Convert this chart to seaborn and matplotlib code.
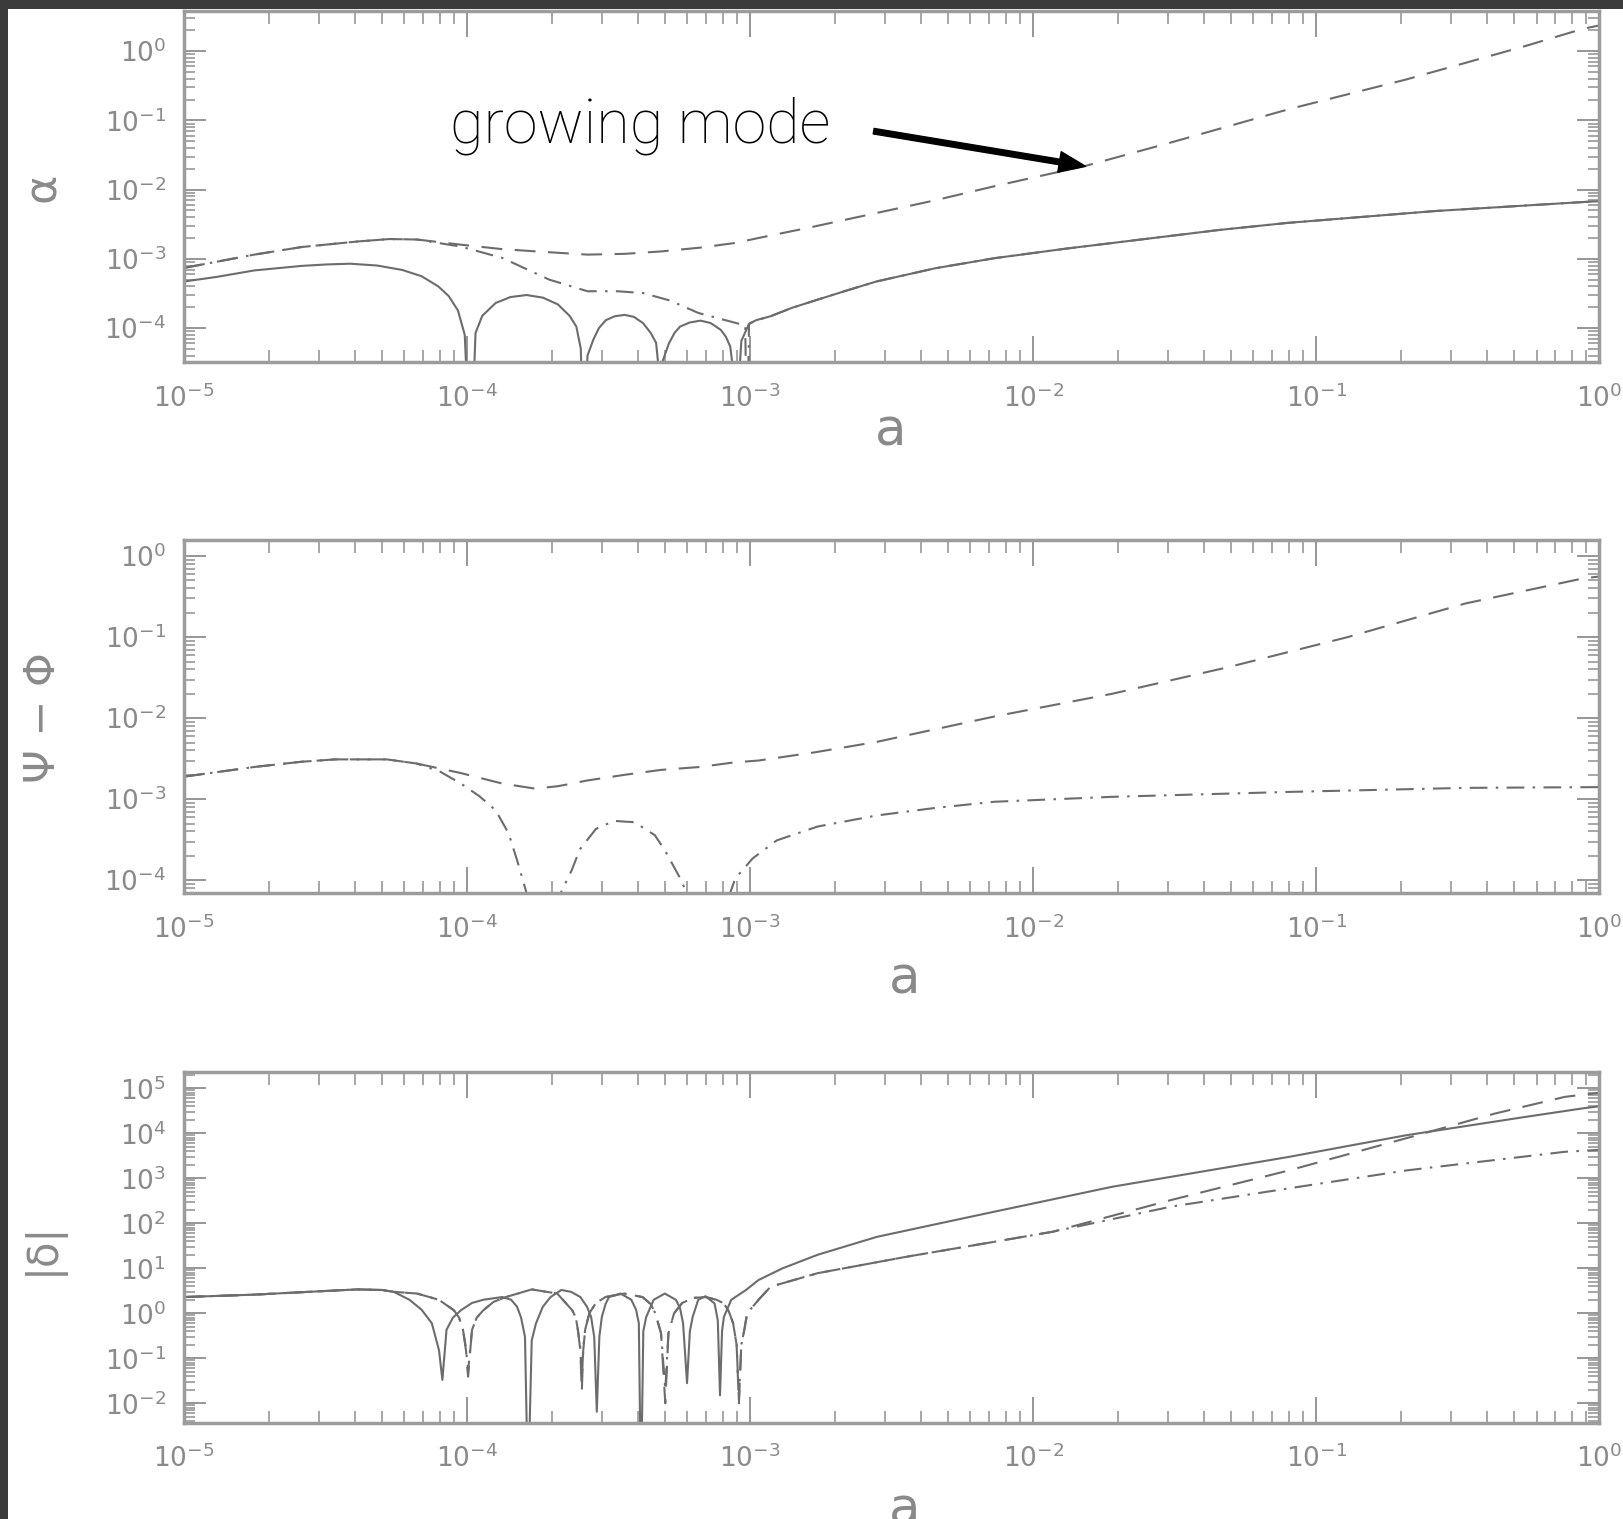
import numpy as np
import matplotlib
matplotlib.use("Agg")
import matplotlib.pyplot as plt
from matplotlib.ticker import LogLocator, NullFormatter
from matplotlib.patches import Rectangle
import seaborn as sns

# ---------------------------------------------------------------- data
# top panel: alpha
alpha_solid_a = [1.0e-5, 1.31e-5, 1.77e-5, 2.6e-5, 3.2e-5, 3.86e-5, 4.8e-5, 5.9e-5, 6.9e-5,
                 7.9e-5, 8.6e-5, 9.27e-5, 9.8e-5, 1.028e-4,
                 1.07e-4, 1.13e-4, 1.26e-4, 1.42e-4, 1.62e-4, 1.85e-4, 2.09e-4, 2.3e-4,
                 2.43e-4, 2.52e-4, 2.58e-4,
                 2.66e-4, 2.79e-4, 2.92e-4, 3.09e-4, 3.32e-4, 3.6e-4, 3.88e-4, 4.18e-4,
                 4.45e-4, 4.65e-4, 4.73e-4, 4.78e-4,
                 4.86e-4, 5.16e-4, 5.4e-4, 5.65e-4, 6.1e-4, 6.67e-4, 7.25e-4, 7.87e-4,
                 8.2e-4, 8.5e-4, 8.65e-4, 8.75e-4,
                 9.3e-4, 9.9e-4, 1.05e-3, 1.18e-3, 1.4e-3, 1.73e-3, 2.2e-3, 2.79e-3,
                 4.5e-3, 7.28e-3, 1.3e-2, 2.4e-2, 4.5e-2, 7.9e-2, 0.263, 0.871, 1.0]
alpha_solid = [4.7e-4, 5.5e-4, 6.8e-4, 7.9e-4, 8.3e-4, 8.5e-4, 8.0e-4, 6.9e-4, 5.6e-4,
               4.0e-4, 2.9e-4, 1.8e-4, 8.0e-5, 1.0e-6,
               8.5e-5, 1.5e-4, 2.3e-4, 2.8e-4, 3.0e-4, 2.75e-4, 2.2e-4, 1.5e-4,
               1.05e-4, 5.0e-5, 1.0e-6,
               4.0e-5, 6.8e-5, 1.0e-4, 1.3e-4, 1.48e-4, 1.55e-4, 1.45e-4, 1.18e-4,
               8.5e-5, 6.1e-5, 3.0e-5, 1.0e-6,
               3.0e-5, 6.0e-5, 8.5e-5, 1.05e-4, 1.2e-4, 1.28e-4, 1.18e-4, 9.4e-5,
               7.5e-5, 5.4e-5, 3.0e-5, 1.0e-6,
               6.5e-5, 1.15e-4, 1.3e-4, 1.48e-4, 1.95e-4, 2.57e-4, 3.5e-4, 4.7e-4,
               7.3e-4, 1.02e-3, 1.4e-3, 1.9e-3, 2.6e-3, 3.3e-3, 4.9e-3, 6.6e-3, 6.8e-3]

alpha_dash_a = [1.0e-5, 1.77e-5, 2.6e-5, 4.1e-5, 5.3e-5, 6.65e-5, 9.5e-5, 1.33e-4, 1.75e-4,
                2.66e-4, 3.6e-4, 4.86e-4, 6.65e-4, 8.9e-4, 1.07e-3, 1.6e-3, 2.8e-3, 4.5e-3,
                7.3e-3, 1.53e-2, 3.07e-2, 8.0e-2, 0.208, 0.542, 0.875, 1.0]
alpha_dash = [7.4e-4, 1.15e-3, 1.48e-3, 1.78e-3, 1.93e-3, 1.9e-3, 1.6e-3, 1.38e-3, 1.28e-3,
              1.15e-3, 1.18e-3, 1.28e-3, 1.45e-3, 1.7e-3, 2.0e-3, 2.8e-3, 4.6e-3, 7.0e-3,
              1.12e-2, 2.2e-2, 4.8e-2, 0.145, 0.39, 1.17, 2.1, 2.35]

alpha_dashdot_a = [1.0e-5, 1.77e-5, 2.6e-5, 4.1e-5, 5.3e-5, 6.65e-5, 9.5e-5, 1.33e-4,
                   1.95e-4, 2.66e-4, 3.4e-4, 4.18e-4, 5.2e-4, 6.56e-4, 9.14e-4, 9.6e-4,
                   9.75e-4, 9.9e-4, 1.05e-3, 1.18e-3, 1.4e-3, 1.73e-3, 2.2e-3, 2.79e-3,
                   4.5e-3, 7.28e-3, 1.3e-2, 2.4e-2, 4.5e-2, 7.9e-2, 0.263, 0.871, 1.0]
alpha_dashdot = [7.4e-4, 1.15e-3, 1.48e-3, 1.78e-3, 1.93e-3, 1.9e-3, 1.5e-3, 1.03e-3,
                 5.0e-4, 3.4e-4, 3.4e-4, 3.2e-4, 2.5e-4, 1.65e-4, 1.15e-4, 1.1e-4,
                 1.0e-6, 1.15e-4, 1.3e-4, 1.48e-4, 1.95e-4, 2.57e-4, 3.5e-4, 4.7e-4,
                 7.3e-4, 1.02e-3, 1.4e-3, 1.9e-3, 2.6e-3, 3.3e-3, 4.9e-3, 6.6e-3, 6.8e-3]

# middle panel: Psi - Phi
psi_dash_a = [1.0e-5, 1.77e-5, 2.6e-5, 3.42e-5, 5.2e-5, 6.65e-5, 9.5e-5, 1.33e-4, 1.74e-4,
              2.1e-4, 2.65e-4, 3.6e-4, 4.84e-4, 6.65e-4, 8.8e-4, 1.07e-3, 1.7e-3, 2.8e-3,
              7.3e-3, 1.9e-2, 4.94e-2, 0.129, 0.336, 0.875, 1.0]
psi_dash = [1.9e-3, 2.5e-3, 2.9e-3, 3.1e-3, 3.1e-3, 2.75e-3, 2.1e-3, 1.56e-3, 1.35e-3,
            1.45e-3, 1.7e-3, 2.0e-3, 2.3e-3, 2.5e-3, 2.85e-3, 3.0e-3, 3.8e-3, 5.1e-3,
            1.05e-2, 2.0e-2, 4.3e-2, 0.1, 0.26, 0.53, 0.56]

psi_dashdot_a = [1.0e-5, 1.77e-5, 2.6e-5, 3.42e-5, 5.2e-5, 6.65e-5, 8.0e-5, 9.5e-5, 1.1e-4,
                 1.26e-4, 1.4e-4, 1.5e-4, 1.62e-4, 1.87e-4, 2.14e-4, 2.34e-4, 2.5e-4,
                 2.85e-4, 3.3e-4, 3.9e-4, 4.6e-4, 4.99e-4, 5.3e-4, 5.62e-4, 5.97e-4,
                 7.2e-4, 8.5e-4, 8.85e-4, 1.02e-3, 1.24e-3, 1.73e-3, 2.8e-3, 4.5e-3,
                 7.3e-3, 1.9e-2, 8.0e-2, 0.336, 1.0]
psi_dashdot = [1.9e-3, 2.5e-3, 2.9e-3, 3.1e-3, 3.1e-3, 2.75e-3, 2.2e-3, 1.56e-3, 1.1e-3,
               7.3e-4, 3.8e-4, 1.77e-4, 7.0e-5, 1.0e-6, 7.0e-5, 1.33e-4, 2.4e-4,
               4.3e-4, 5.4e-4, 5.2e-4, 3.6e-4, 2.35e-4, 1.6e-4, 1.1e-4, 7.0e-5,
               1.0e-6, 7.0e-5, 1.05e-4, 1.86e-4, 3.1e-4, 4.6e-4, 6.3e-4, 7.8e-4,
               9.3e-4, 1.07e-3, 1.23e-3, 1.38e-3, 1.41e-3]

# bottom panel: |delta|
delta_solid_a = [1.0e-5, 1.77e-5, 2.6e-5, 4.1e-5, 5.0e-5, 5.5e-5, 6.25e-5, 6.9e-5, 7.5e-5,
                 7.95e-5, 8.17e-5, 8.45e-5, 8.9e-5, 9.5e-5, 1.04e-4, 1.14e-4, 1.33e-4,
                 1.43e-4, 1.5e-4, 1.55e-4, 1.6e-4, 1.64e-4, 1.69e-4, 1.75e-4, 1.85e-4,
                 1.97e-4, 2.15e-4, 2.33e-4, 2.51e-4, 2.65e-4, 2.74e-4, 2.81e-4, 2.87e-4,
                 2.93e-4, 2.99e-4, 3.08e-4, 3.17e-4, 3.48e-4, 3.8e-4, 3.95e-4, 4.04e-4,
                 4.11e-4, 4.19e-4, 4.29e-4, 4.56e-4, 4.99e-4, 5.46e-4, 5.65e-4, 5.79e-4,
                 5.98e-4, 6.12e-4, 6.26e-4, 6.55e-4, 6.95e-4, 7.48e-4, 7.68e-4, 7.82e-4,
                 7.95e-4, 8.07e-4, 8.57e-4, 9.66e-4, 1.07e-3, 1.3e-3, 1.73e-3, 2.8e-3,
                 4.5e-3, 7.3e-3, 1.9e-2, 8.0e-2, 0.208, 0.542, 0.875, 1.0]
delta_solid = [2.3, 2.6, 2.95, 3.4, 3.3, 3.0, 2.0, 1.2, 0.6,
               0.15, 0.033, 0.43, 0.8, 1.17, 1.7, 2.0, 2.3,
               2.0, 1.4, 0.8, 0.3, 1.0e-4, 0.25, 0.6, 1.4,
               2.3, 3.3, 3.0, 2.3, 1.4, 0.83, 0.3, 6.5e-3,
               0.3, 0.83, 1.6, 2.3, 2.75, 2.0, 1.2, 0.6,
               1.0e-4, 0.4, 0.83, 2.0, 2.75, 2.0, 1.3, 0.6,
               0.028, 0.4, 0.83, 2.0, 2.4, 1.66, 0.7, 0.015,
               0.4, 0.83, 2.0, 3.3, 5.5, 10, 20, 50,
               95, 182, 650, 3000, 9100, 2.3e4, 3.6e4, 4.0e4]

delta_dash_a = [1.0e-5, 1.77e-5, 2.6e-5, 4.1e-5, 5.0e-5, 5.5e-5, 6.65e-5, 7.94e-5, 8.97e-5,
                9.36e-5, 9.66e-5, 9.9e-5, 1.007e-4, 1.025e-4, 1.04e-4, 1.08e-4, 1.14e-4,
                1.24e-4, 1.37e-4, 1.69e-4, 2.08e-4, 2.35e-4, 2.42e-4, 2.46e-4, 2.51e-4,
                2.54e-4, 2.57e-4, 2.61e-4, 2.7e-4, 2.85e-4, 3.08e-4, 3.58e-4, 4.16e-4,
                4.45e-4, 4.62e-4, 4.84e-4, 5.01e-4, 5.14e-4, 5.38e-4, 5.75e-4, 6.3e-4,
                6.95e-4, 7.6e-4, 8.07e-4, 8.4e-4, 8.7e-4, 8.95e-4, 9.12e-4, 9.3e-4,
                9.53e-4, 9.75e-4, 1.07e-3, 1.18e-3, 1.73e-3, 3.55e-3, 7.3e-3, 1.17e-2,
                3.07e-2, 8.0e-2, 0.208, 0.427, 0.757, 1.0]
delta_dash = [2.3, 2.6, 2.95, 3.4, 3.3, 3.0, 2.75, 2.0, 1.17,
              0.8, 0.43, 0.15, 0.039, 0.15, 0.43, 0.8, 1.17,
              1.8, 2.3, 3.4, 2.75, 1.17, 0.8, 0.43, 0.15,
              0.018, 0.15, 0.43, 1.0, 1.7, 2.3, 2.75, 2.3,
              1.6, 1.0, 0.36, 0.01, 0.36, 1.0, 1.7, 2.2,
              2.3, 2.0, 1.66, 1.1, 0.6, 0.2, 0.01, 0.2,
              0.43, 1.0, 2.0, 3.9, 7.8, 18, 39, 65,
              330, 1500, 7800, 2.75e4, 6.5e4, 8.0e4]

delta_dashdot_a = [1.0e-5, 1.77e-5, 2.6e-5, 4.1e-5, 5.0e-5, 5.5e-5, 6.65e-5, 7.94e-5, 8.97e-5,
                   9.36e-5, 9.66e-5, 9.9e-5, 1.007e-4, 1.025e-4, 1.04e-4, 1.08e-4, 1.14e-4,
                   1.24e-4, 1.37e-4, 1.69e-4, 2.08e-4, 2.35e-4, 2.42e-4, 2.46e-4, 2.51e-4,
                   2.54e-4, 2.57e-4, 2.61e-4, 2.7e-4, 2.85e-4, 3.08e-4, 3.58e-4, 4.16e-4,
                   4.45e-4, 4.62e-4, 4.84e-4, 5.01e-4, 5.14e-4, 5.38e-4, 5.75e-4, 6.3e-4,
                   6.95e-4, 7.6e-4, 8.07e-4, 8.4e-4, 8.7e-4, 8.95e-4, 9.12e-4, 9.3e-4,
                   9.53e-4, 9.75e-4, 1.07e-3, 1.18e-3, 1.73e-3, 3.55e-3, 7.3e-3, 1.17e-2,
                   3.07e-2, 8.0e-2, 0.208, 0.757, 1.0]
delta_dashdot = [2.3, 2.6, 2.95, 3.4, 3.3, 3.0, 2.75, 2.0, 1.17,
                 0.8, 0.43, 0.17, 0.05, 0.17, 0.43, 0.8, 1.17,
                 1.8, 2.3, 3.4, 2.75, 1.17, 0.8, 0.43, 0.17,
                 0.03, 0.17, 0.43, 1.0, 1.7, 2.3, 2.75, 2.3,
                 1.6, 1.0, 0.36, 0.02, 0.36, 1.0, 1.7, 2.2,
                 2.3, 2.0, 1.66, 1.1, 0.6, 0.2, 0.012, 0.2,
                 0.43, 1.0, 2.0, 3.9, 7.8, 18, 39, 65,
                 235, 600, 1500, 3900, 4300]

panel_ylims = [(3.2e-5, 3.8), (6.9e-5, 1.58), (3.7e-3, 2.35e5)]
panel_ylabels = ["α", "Ψ − Φ", "|δ|"]

# ---------------------------------------------------------------- style
sns.set_theme(style="white")
plt.rcParams["font.family"] = ["DejaVu Sans"]
plt.rcParams["mathtext.fontset"] = "dejavusans"

W, H = 1623, 1519
LINE_C = "#6c6c6c"
SPINE_C = "#9c9c9c"
TICK_C = "#8e8e8e"
TEXT_C = "#8a8a8a"
LW = 1.5
SOLID = "-"
DASHED = (0, (10, 6))
DASHDOT = (0, (8.5, 4, 1.2, 4))

fig = plt.figure(figsize=(W / 100, H / 100), dpi=100, facecolor="#3b3b3b")
fig.add_artist(Rectangle((8 / W, 0), 1 - 8 / W, 1 - 9 / H, transform=fig.transFigure,
                         facecolor="white", edgecolor="none", zorder=-5))


def px_axes(left, top, right, bottom):
    return fig.add_axes([left / W, 1 - bottom / H, (right - left) / W, (bottom - top) / H])


ax_top = px_axes(184.2, 11.0, 1599.3, 362.3)
ax_mid = px_axes(184.2, 540.0, 1599.3, 893.3)
ax_bot = px_axes(184.2, 1071.7, 1599.3, 1422.7)
axes = [ax_top, ax_mid, ax_bot]

series = [
    [(alpha_solid_a, alpha_solid, SOLID), (alpha_dash_a, alpha_dash, DASHED),
     (alpha_dashdot_a, alpha_dashdot, DASHDOT)],
    [(psi_dash_a, psi_dash, DASHED), (psi_dashdot_a, psi_dashdot, DASHDOT)],
    [(delta_solid_a, delta_solid, SOLID), (delta_dash_a, delta_dash, DASHED),
     (delta_dashdot_a, delta_dashdot, DASHDOT)],
]

for ax, lines, ylim in zip(axes, series, panel_ylims):
    ax.set_facecolor("white")
    ax.set_xscale("log")
    ax.set_yscale("log")
    for xs, ys, ls in lines:
        sns.lineplot(x=xs, y=ys, ax=ax, color=LINE_C, linewidth=LW, linestyle=ls,
                     estimator=None, sort=False)
    ax.set_xlim(1e-5, 1.0)
    ax.set_ylim(*ylim)

    ax.xaxis.set_major_locator(LogLocator(base=10, numticks=30))
    ax.yaxis.set_major_locator(LogLocator(base=10, numticks=30))
    ax.xaxis.set_minor_locator(LogLocator(base=10, subs=np.arange(2, 10) * 1.0, numticks=200))
    ax.yaxis.set_minor_locator(LogLocator(base=10, subs=np.arange(2, 10) * 1.0, numticks=200))
    ax.xaxis.set_minor_formatter(NullFormatter())
    ax.yaxis.set_minor_formatter(NullFormatter())

    ax.tick_params(axis="x", which="major", direction="in", length=19, width=1.3,
                   color=TICK_C, top=True, bottom=True, pad=16, labelsize=19,
                   labelcolor=TEXT_C)
    ax.tick_params(axis="x", which="minor", direction="in", length=9, width=1.1,
                   color=TICK_C, top=True, bottom=True)
    ax.tick_params(axis="y", which="major", direction="in", length=16, width=1.3,
                   color=TICK_C, left=True, right=True, pad=13, labelsize=19,
                   labelcolor=TEXT_C)
    ax.tick_params(axis="y", which="minor", direction="in", length=8, width=1.1,
                   color=TICK_C, left=True, right=True)

    for sp in ax.spines.values():
        sp.set_visible(True)
        sp.set_color(SPINE_C)
        sp.set_linewidth(2.5)

# axis labels
xlabel_pos = [(0.499, -0.198), (0.509, -0.245), (0.509, -0.249)]
ylabel_sizes = [32, 31, 30]
for ax, lab, (xx, yy), ys in zip(axes, panel_ylabels, xlabel_pos, ylabel_sizes):
    ax.set_xlabel("a", fontsize=37, color=TEXT_C)
    ax.xaxis.set_label_coords(xx, yy)
    ax.xaxis.label.set_va("center")
    ax.set_ylabel(lab, fontsize=ys, color=TEXT_C)
    ax.yaxis.set_label_coords(-0.100, 0.497)
    ax.yaxis.label.set_va("center")

# annotation on the growing mode
ax_top.text(8.69e-5, 0.0479, "growing mode", fontsize=44, family="Roboto",
            fontweight="light", color="black", ha="left", va="baseline")
ax_top.annotate("", xy=(1.53e-2, 0.0217), xytext=(2.73e-3, 0.0698),
                xycoords="data", textcoords="data",
                arrowprops=dict(facecolor="black", edgecolor="black", width=4.0,
                                headwidth=15, headlength=19, shrink=0.0))

fig.savefig("out.png", dpi=100, facecolor=fig.get_facecolor())
